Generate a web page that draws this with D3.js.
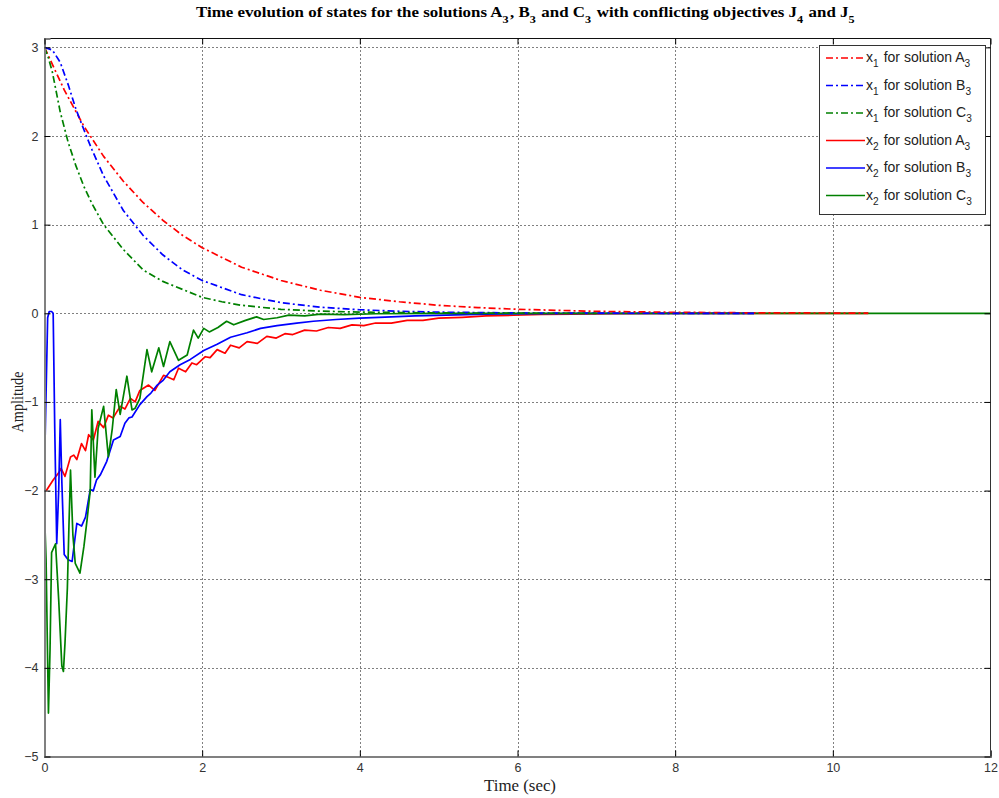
<!DOCTYPE html>
<html><head><meta charset="utf-8">
<script src="https://cdn.jsdelivr.net/npm/d3@7"></script>
<style>body{margin:0;background:#fff}svg{display:block}</style>
</head><body><svg id="c" width="999" height="798"></svg>
<script>
// ---- data ----
const xTicks = [0, 2, 4, 6, 8, 10, 12];
const yTicks = [-5, -4, -3, -2, -1, 0, 1, 2, 3];

// x1 (dash-dot) curves
const tX1A = [0,0.25,0.5,0.75,1,1.25,1.5,1.75,2,2.5,3,3.5,4,4.5,5,5.5,6,7,8,9,10,10.45];
const vX1A = [3.0,2.52,2.11,1.77,1.49,1.25,1.05,0.88,0.74,0.52,0.37,0.26,0.18,0.13,0.09,0.064,0.045,0.022,0.011,0.005,0.003,0.002];
const tX1B = [0,0.1,0.2,0.3,0.4,0.5,0.6,0.75,1,1.25,1.5,1.75,2,2.5,3,3.5,4,4.5,5,6,7,8,9];
const vX1B = [3.0,2.97,2.83,2.58,2.3,2.07,1.85,1.55,1.16,0.88,0.66,0.49,0.37,0.21,0.12,0.068,0.04,0.023,0.013,0.004,0.001,0,0];
const tX1C = [0,0.05,0.1,0.2,0.3,0.4,0.5,0.6,0.75,1,1.25,1.5,1.75,2,2.25,2.5,3,3.5,4,5,6,7];
const vX1C = [3.0,2.88,2.72,2.27,1.93,1.66,1.43,1.24,1.0,0.72,0.49,0.36,0.27,0.18,0.13,0.09,0.045,0.024,0.013,0.004,0.001,0];

// x2 (solid) curves
const tX2A = [0,0.03,0.11,0.18,0.21,0.26,0.33,0.37,0.41,0.47,0.52,0.56,0.62,0.68,0.75,0.81,0.87,0.96,1.02,1.09,1.15,1.21,1.32,1.4,1.51,1.64,1.7,1.79,1.87,1.93,2.04,2.1,2.19,2.29,2.36,2.47,2.57,2.7,2.82,2.94,3.05,3.15,3.3,3.45,3.6,3.75,3.9,4.05,4.2,4.4,4.6,4.8,5.0,5.3,5.6,5.95,6.3,6.7,7.2,8,9,10.45];
const vX2A = [-2.0,-1.99,-1.88,-1.8,-1.75,-1.84,-1.62,-1.6,-1.65,-1.47,-1.55,-1.37,-1.43,-1.22,-1.29,-1.15,-1.18,-1.05,-1.08,-0.96,-1.0,-0.87,-0.81,-0.87,-0.7,-0.75,-0.62,-0.66,-0.56,-0.58,-0.49,-0.5,-0.41,-0.45,-0.36,-0.39,-0.32,-0.34,-0.26,-0.28,-0.23,-0.24,-0.19,-0.2,-0.16,-0.17,-0.13,-0.14,-0.11,-0.11,-0.08,-0.08,-0.055,-0.045,-0.03,-0.022,-0.013,-0.01,-0.005,-0.002,0,0];
const tX2B = [0,0.02,0.04,0.06,0.09,0.11,0.13,0.155,0.18,0.2,0.22,0.25,0.3,0.35,0.41,0.47,0.52,0.58,0.62,0.66,0.71,0.79,0.875,0.96,1.02,1.07,1.11,1.21,1.3,1.35,1.43,1.5,1.59,1.72,1.85,2.02,2.19,2.36,2.57,2.74,2.95,3.2,3.41,3.7,4.0,4.4,4.7,5.1,5.6,6.2,7,8,9];
const vX2B = [-1.75,-0.9,-0.05,0.02,0.02,0.0,-1.3,-2.6,-2.0,-1.2,-1.9,-2.72,-2.78,-2.8,-2.37,-2.4,-2.3,-1.99,-2.0,-1.88,-1.82,-1.67,-1.43,-1.39,-1.24,-1.18,-1.17,-1.03,-0.94,-0.9,-0.81,-0.76,-0.66,-0.58,-0.52,-0.42,-0.35,-0.27,-0.22,-0.17,-0.14,-0.11,-0.09,-0.07,-0.055,-0.04,-0.03,-0.02,-0.01,-0.005,-0.002,0,0];
const tX2C = [0,0.02,0.05,0.07,0.09,0.14,0.18,0.22,0.24,0.26,0.29,0.31,0.33,0.36,0.39,0.45,0.5,0.54,0.58,0.6,0.64,0.68,0.75,0.81,0.86,0.91,0.96,1.045,1.11,1.15,1.21,1.3,1.36,1.45,1.51,1.59,1.7,1.81,1.89,1.95,2.02,2.09,2.2,2.31,2.4,2.55,2.69,2.78,2.95,3.1,3.3,3.5,3.8,4.2,5,12];
const vX2C = [-2.25,-2.78,-4.51,-3.8,-2.7,-2.6,-3.23,-3.98,-4.04,-3.72,-3.1,-2.4,-1.77,-2.5,-2.82,-2.93,-2.63,-2.33,-2.0,-1.09,-1.85,-1.3,-1.05,-1.62,-1.3,-0.86,-1.14,-0.71,-1.09,-1.07,-0.96,-0.41,-0.66,-0.39,-0.6,-0.32,-0.53,-0.47,-0.19,-0.28,-0.17,-0.21,-0.16,-0.09,-0.13,-0.08,-0.04,-0.07,-0.05,-0.02,-0.03,-0.01,-0.015,-0.005,0,0];

const seriesNames = ["x1 for solution A3","x1 for solution B3","x1 for solution C3","x2 for solution A3","x2 for solution B3","x2 for solution C3"];
const seriesColors = ["#ff0000","#0000ff","#008000","#ff0000","#0000ff","#008000"];

// ---- layout ----
const L = 44.5, R = 990.5, T = 38.5, B = 756.5;
const svg = d3.select("#c");
const x = d3.scaleLinear().domain([0, 12]).range([L, R]);
const y = d3.scaleLinear().domain([-5, 3.1]).range([B, T]);

const series = [
  {t:tX1A, v:vX1A, dash:true},
  {t:tX1B, v:vX1B, dash:true},
  {t:tX1C, v:vX1C, dash:true},
  {t:tX2A, v:vX2A, dash:false},
  {t:tX2B, v:vX2B, dash:false},
  {t:tX2C, v:vX2C, dash:false}
];
const dashPat = "7,3,2,3";

// grid
const g = svg.append("g");
g.selectAll(".gx").data(xTicks.filter(d => d > 0 && d < 12)).join("line")
  .attr("x1", d => Math.round(x(d)) + 0.5).attr("x2", d => Math.round(x(d)) + 0.5)
  .attr("y1", T).attr("y2", B).attr("stroke", "#000").attr("stroke-width", 1).attr("stroke-dasharray", "1,3");
g.selectAll(".gy").data(yTicks.filter(d => d > -5)).join("line")
  .attr("y1", d => Math.round(y(d)) + 0.5).attr("y2", d => Math.round(y(d)) + 0.5)
  .attr("x1", L).attr("x2", R).attr("stroke", "#000").attr("stroke-width", 1).attr("stroke-dasharray", "1,3");

svg.append("clipPath").attr("id", "clip").append("rect").attr("x", L).attr("y", T).attr("width", R - L).attr("height", B - T);

const line = d3.line().x(d => x(d[0])).y(d => y(d[1]));
const plot = svg.append("g").attr("clip-path", "url(#clip)");
[3,4,5,0,1,2].forEach(i => {
  const s = series[i];
  const pts = s.t.map((t, k) => [t, s.v[k]]);
  plot.append("path").attr("d", line(pts)).attr("fill", "none")
    .attr("stroke", seriesColors[i]).attr("stroke-width", 1.7)
    .attr("stroke-linejoin", "round")
    .attr("stroke-dasharray", s.dash ? dashPat : null);
});

// axes frame
svg.append("line").attr("x1", R).attr("x2", R).attr("y1", T).attr("y2", B).attr("stroke", "#333").attr("stroke-width", 1);
svg.append("line").attr("x1", L).attr("x2", R).attr("y1", T).attr("y2", T).attr("stroke", "#111").attr("stroke-width", 1);

const xAxis = d3.axisBottom(x).tickValues(xTicks).tickSize(-6).tickPadding(10).tickFormat(d3.format("d"));
const yAxis = d3.axisLeft(y).tickValues(yTicks).tickSize(-6).tickPadding(6).tickFormat(d3.format("d"));
const gx = svg.append("g").attr("transform", `translate(0,${B})`).call(xAxis);
const gy = svg.append("g").attr("transform", `translate(${L},0)`).call(yAxis);
[gx, gy].forEach(a => {
  a.select(".domain").attr("stroke", "#808080").attr("stroke-width", 2);
  a.selectAll(".tick line").attr("stroke", "#000");
  a.selectAll(".tick text").attr("font-family", "Liberation Sans, Arial, sans-serif").attr("font-size", 12.5).attr("fill", "#333");
});
gx.selectAll(".tick text").attr("dy", "0.45em");
const gt = svg.append("g").attr("transform", `translate(0,${T})`).call(d3.axisTop(x).tickValues(xTicks).tickSize(-6).tickFormat(""));
const gr = svg.append("g").attr("transform", `translate(${R},0)`).call(d3.axisRight(y).tickValues(yTicks).tickSize(-6).tickFormat(""));
[gt, gr].forEach(a => { a.select(".domain").remove(); a.selectAll(".tick line").attr("stroke", "#000"); });

// text helper with subscripts
function subText(sel, parts, baseSize) {
  parts.forEach(p => {
    if (Array.isArray(p)) {
      sel.append("tspan").attr("dy", baseSize * 0.38).attr("font-size", baseSize * 0.72).text(p[0]);
      sel.append("tspan").attr("dy", -baseSize * 0.38).text("\u200a");
    } else {
      sel.append("tspan").text(p);
    }
  });
}
const title = svg.append("text").attr("x", 526).attr("y", 17).attr("text-anchor", "middle")
  .attr("font-family", "Liberation Serif, Times New Roman, serif").attr("font-weight", "bold").attr("font-size", 14.5).attr("fill", "#000")
  .attr("textLength", 660).attr("lengthAdjust", "spacingAndGlyphs");
subText(title, ["Time evolution of states for the solutions A", ["3"], ", B", ["3"], " and C", ["3"], " with conflicting objectives J", ["4"], " and J", ["5"]], 14.5);

svg.append("text").attr("x", 520).attr("y", 791).attr("text-anchor", "middle")
  .attr("font-family", "Liberation Serif, Times New Roman, serif").attr("font-size", 16.5).attr("fill", "#222")
  .attr("textLength", 72).attr("lengthAdjust", "spacingAndGlyphs").text("Time (sec)");
svg.append("text").attr("transform", "translate(23,402) rotate(-90)").attr("text-anchor", "middle")
  .attr("font-family", "Liberation Serif, Times New Roman, serif").attr("font-size", 16.5).attr("fill", "#222")
  .attr("textLength", 61).attr("lengthAdjust", "spacingAndGlyphs").text("Amplitude");

// legend
const lg = svg.append("g");
lg.append("rect").attr("x", 819.5).attr("y", 45.5).attr("width", 166).attr("height", 169).attr("fill", "#fff").attr("stroke", "#333").attr("stroke-width", 1);
const rowY = [58, 85.5, 113, 140.5, 168, 195.5];
seriesNames.forEach((n, i) => {
  lg.append("line").attr("x1", 826).attr("x2", 865).attr("y1", rowY[i]).attr("y2", rowY[i])
    .attr("stroke", seriesColors[i]).attr("stroke-width", 1.7).attr("stroke-dasharray", series[i].dash ? dashPat : null);
  const tx = lg.append("text").attr("x", 866).attr("y", rowY[i] + 4).attr("font-family", "Liberation Sans, Arial, sans-serif")
    .attr("font-size", 14).attr("fill", "#222");
  const m = n.match(/^x(\d) for solution ([ABC])(\d)$/);
  subText(tx, ["x", [m[1]], " for solution " + m[2], [m[3]]], 14);
});
</script></body></html>
